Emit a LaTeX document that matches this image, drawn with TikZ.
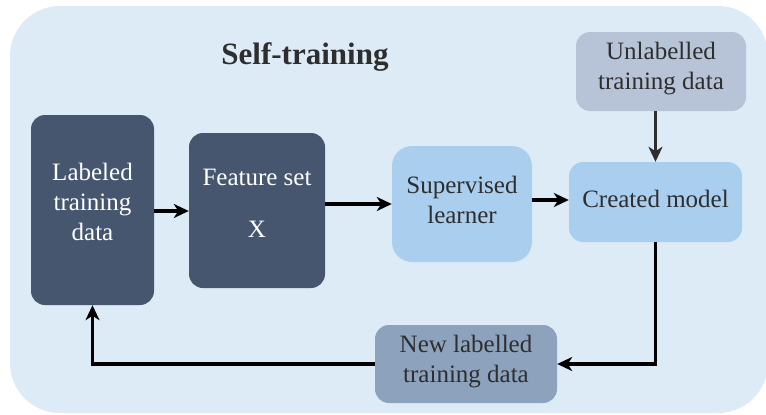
\documentclass[tikz,border=0pt]{standalone}
\usepackage{fontspec}
\setmainfont{Liberation Serif}[Ligatures=TeX]
\usetikzlibrary{arrows.meta}
\definecolor{panel}{HTML}{DDEBF7}
\definecolor{slate}{HTML}{46566F}
\definecolor{skyblue}{HTML}{A9CEEE}
\definecolor{greyblue}{HTML}{B7C4D8}
\definecolor{midblue}{HTML}{8DA2BD}
\definecolor{ink}{HTML}{2E2E2E}
\tikzset{
  box/.style={rectangle, rounded corners=14pt, inner sep=0pt, align=center,
    font=\rmfamily\fontsize{25}{30}\selectfont},
  darkbox/.style={box, fill=slate, text=white},
  lightbox/.style={box, fill=skyblue, text=ink},
  tip/.tip={Stealth[length=15pt,width=14pt,inset=4.5pt]},
  arr/.style={-tip, line width=3.2pt, draw=black},
}
\begin{document}
\begin{tikzpicture}[x=1pt,y=-1pt]
  \useasboundingbox (0,0) rectangle (766,415);
  % panel
  \fill[panel, rounded corners=50pt] (10,6) rectangle (768,413);
  \node[font=\rmfamily\bfseries\fontsize{31}{36}\selectfont, text=ink] (title) at (305,57) {Self-training};

  % boxes
  \node[darkbox, minimum width=123pt, minimum height=190pt] (lab) at (92.5,210) {};
  \node[darkbox] (labtxt) at (92.5,201.5) {Labeled\\training\\data};
  \node[darkbox, minimum width=136pt, minimum height=155pt] (fs) at (257,210.5) {};
  \node[darkbox] (fstxt) at (257,203) {Feature set\\[22pt]X};
  \node[lightbox, rounded corners=20pt, minimum width=140pt, minimum height=116pt] (sup) at (462,204) {};
  \node[lightbox] (suptxt) at (462,200) {Supervised\\learner};
  \node[lightbox, minimum width=173pt, minimum height=80pt] (cm) at (655.5,202) {};
  \node[lightbox] (cmtxt) at (655.5,199) {Created model};
  \node[box, fill=greyblue, text=ink, minimum width=170pt, minimum height=79pt] (ul) at (661,71.5) {};
  \node[box, text=ink] (ultxt) at (661,69) {Unlabelled\\training data};
  \node[box, fill=midblue, text=ink, minimum width=182pt, minimum height=78pt] (nl) at (466,364) {};
  \node[box, text=ink] (nltxt) at (466,362) {New labelled\\training data};

  % flow
  \draw[arr] ([yshift=-1pt]lab.east) -- ([yshift=-1pt]lab.east -| fs.west);
  \draw[arr] ([yshift=6.5pt]fs.east) -- ([yshift=6.5pt]fs.east -| sup.west);
  \draw[arr] ([yshift=4pt]sup.east) -- ([yshift=4pt]sup.east -| cm.west);
  \draw[arr, draw=ink, fill=ink] (cm.north |- ul.south) -- (cm.north);
  \draw[arr] (cm.south) |- (nl.east);
  \draw[arr] (nl.west) -| (lab.south);
\end{tikzpicture}
\end{document}
